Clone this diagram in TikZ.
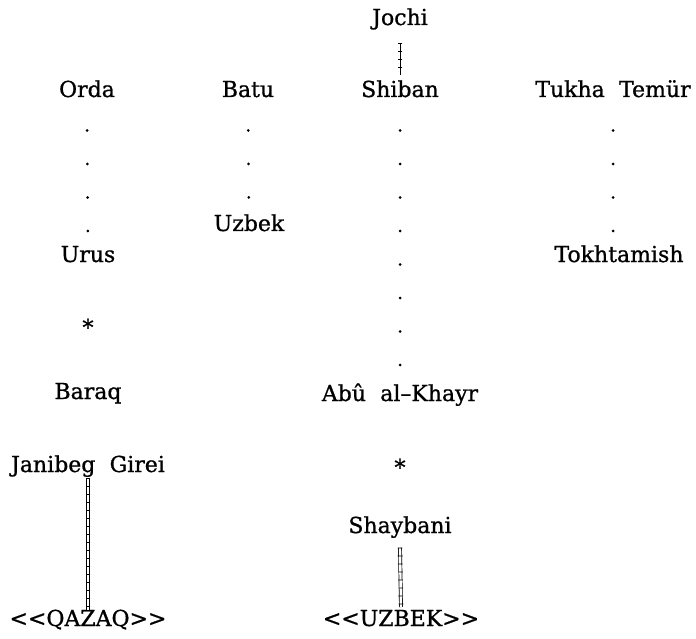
\documentclass[tikz,border=0pt]{standalone}
\usepackage{fontspec}
\setmainfont{DejaVu Serif}[BoldFont=DejaVu Serif,BoldFeatures={FakeBold=0.9}]
\usetikzlibrary{calc,decorations.markings,decorations.pathreplacing}
\newcommand{\wsp}{\hspace{0.65em}}
\begin{document}
\begin{tikzpicture}[x=1pt,y=-1pt,
  lbl/.style={anchor=base,inner sep=0pt,font=\fontsize{22}{26}\selectfont\bfseries},
  dotline/.style={decoration={markings,mark=between positions 33.5pt and -18pt step 33.5pt with {\fill circle (1.5pt);}},decorate},
  plainline/.style={line width=0.7pt},
  tickmarks/.style={line width=0.6pt,decoration={ticks,segment length=8pt,amplitude=2.4pt},decorate},
  dbl/.style={double,double distance=2.4pt,line width=0.7pt}]
\useasboundingbox (0,0) rectangle (696,639);

% names
\node[lbl] (jochi) at (400,25) {Jochi};
\node[lbl] (orda) at (87,97) {Orda};
\node[lbl] (batu) at (248,97) {Batu};
\node[lbl] (shiban) at (400,97) {Shiban};
\node[lbl] (tukha) at (613,97) {Tukha\wsp Temür};
\node[lbl] (uzbek) at (249,231) {Uzbek};
\node[lbl] (urus) at (88,262) {Urus};
\node[lbl] (tokh) at (619,262) {Tokhtamish};
\node[lbl] (star1) at (88,335) {*};
\node[lbl] (baraq) at (88,399) {Baraq};
\node[lbl] (abu) at (400,401) {Abû\wsp al–Khayr};
\node[lbl] (jan) at (88,472) {Janibeg\wsp Girei};
\node[lbl] (star2) at (400,475) {*};
\node[lbl] (shay) at (400,533) {Shaybani};
\node[lbl] (qaz) at (88,626) {<{}<QAZAQ>{}>};
\node[lbl] (uzb) at (401,626) {<{}<UZBEK>{}>};

% Jochi -- Shiban
\draw[plainline] ($(jochi.base)+(0,18)$) -- ($(shiban.base)+(0,-22)$);
\draw[tickmarks] ($(jochi.base)+(0,18)$) -- ($(shiban.base)+(0,-22)$);

% dotted lineages
\path[dotline] (orda.base) -- (urus.base);
\path[dotline] (batu.base) -- (uzbek.base);
\path[dotline] (shiban.base) -- (abu.base);
\path[dotline] (tukha.base) -- (tukha.base |- tokh.base);

% double lines
\draw[dbl] ($(jan.base)+(0,6)$) -- ($(qaz.base)+(0,-16)$);
\draw[tickmarks] ($(jan.base)+(0,6)$) -- ($(qaz.base)+(0,-16)$);
\draw[dbl] ($(shay.base)+(0,15)$) -- ($(uzb.base)+(0,-19)$);
\draw[tickmarks] ($(shay.base)+(0,15)$) -- ($(uzb.base)+(0,-19)$);
\end{tikzpicture}
\end{document}
